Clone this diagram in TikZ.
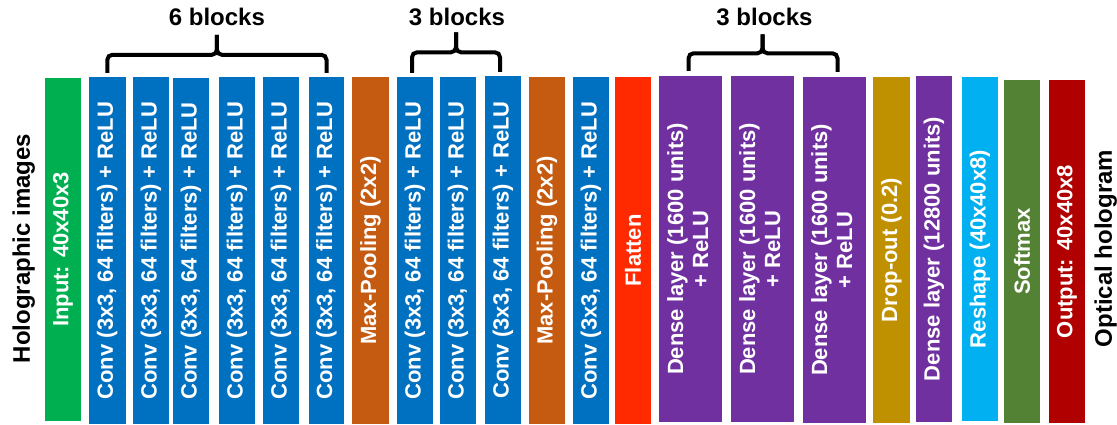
\documentclass[tikz,border=0pt]{standalone}
\usepackage{fontspec}
\setmainfont{Liberation Sans}
\usepackage{tikz}
\usetikzlibrary{calc}
\usepackage{xcolor}
\definecolor{inpgreen}{HTML}{00B050}
\definecolor{convblue}{HTML}{0070C0}
\definecolor{poolorange}{HTML}{C55A11}
\definecolor{flatred}{HTML}{FF2A00}
\definecolor{densepurple}{HTML}{7030A0}
\definecolor{dropgold}{HTML}{BF9000}
\definecolor{reshblue}{HTML}{00B0F0}
\definecolor{softgreen}{HTML}{548235}
\definecolor{outred}{HTML}{B00000}
\tikzset{
	bar/.style={rectangle,inner sep=0pt,minimum width=36pt,minimum height=347pt,text=white,font=\fontsize{22}{25}\selectfont\bfseries},
	brk/.style={line width=4pt,rounded corners=5pt},
	lbl/.style={inner sep=0pt,font=\fontsize{24}{28}\selectfont\bfseries}
}
\newcommand{\twoline}[2]{\rotatebox{90}{\begin{tabular}{@{}c@{}}#1\\#2\end{tabular}}}

\begin{document}
\begin{tikzpicture}[x=1pt,y=1pt]
		\useasboundingbox (0,0) rectangle (1117,424);
		\node [lbl,rotate=90] (holo) at (23.75,175.5) {Holographic images};
		\node [bar,fill=inpgreen,minimum height=343pt] (inp) at (63,174.5) {\rotatebox{90}{Input: 40x40x3}};
		\node [bar,fill=convblue,minimum width=36.7pt] (c1) at (107.3,173.5) {\rotatebox{90}{Conv (3x3, 64 filters) + ReLU}};
		\node [bar,fill=convblue] (c2) at (151,173.5) {\rotatebox{90}{Conv (3x3, 64 filters) + ReLU}};
		\node [bar,fill=convblue,minimum height=346pt] (c3) at (191,173) {\rotatebox{90}{Conv (3x3, 64 filters) + ReLU}};
		\node [bar,fill=convblue] (c4) at (237,173.5) {\rotatebox{90}{Conv (3x3, 64 filters) + ReLU}};
		\node [bar,fill=convblue] (c5) at (281,173.5) {\rotatebox{90}{Conv (3x3, 64 filters) + ReLU}};
		\node [bar,fill=convblue,minimum width=35pt] (c6) at (326.5,173.5) {\rotatebox{90}{Conv (3x3, 64 filters) + ReLU}};
		\node [bar,fill=poolorange,minimum width=37pt] (mp1) at (370.5,173.5) {\rotatebox{90}{Max-Pooling (2x2)}};
		\node [bar,fill=convblue] (c7) at (415,173.5) {\rotatebox{90}{Conv (3x3, 64 filters) + ReLU}};
		\node [bar,fill=convblue] (c8) at (458,173.5) {\rotatebox{90}{Conv (3x3, 64 filters) + ReLU}};
		\node [bar,fill=convblue,minimum height=348pt] (c9) at (503,174) {\rotatebox{90}{Conv (3x3, 64 filters) + ReLU}};
		\node [bar,fill=poolorange] (mp2) at (547,173.5) {\rotatebox{90}{Max-Pooling (2x2)}};
		\node [bar,fill=convblue] (c10) at (591,173.5) {\rotatebox{90}{Conv (3x3, 64 filters) + ReLU}};
		\node [bar,fill=flatred] (flt) at (633,173.5) {\rotatebox{90}{Flatten}};
		\node [bar,fill=densepurple,minimum width=63pt,minimum height=346pt] (d1) at (690.5,175) {\twoline{Dense layer (1600 units)}{+ ReLU}};
		\node [bar,fill=densepurple,minimum width=63pt,minimum height=346pt] (d2) at (762.5,175) {\twoline{Dense layer (1600 units)}{+ ReLU}};
		\node [bar,fill=densepurple,minimum width=63pt,minimum height=346pt] (d3) at (834.5,174) {\twoline{Dense layer (1600 units)}{+ ReLU}};
		\node [bar,fill=dropgold,minimum width=37pt,minimum height=346pt] (drp) at (891.5,174) {\rotatebox{90}{Drop-out (0.2)}};
		\node [bar,fill=densepurple,minimum height=346pt] (d4) at (934,175) {\rotatebox{90}{Dense layer (12800 units)}};
		\node [bar,fill=reshblue,minimum height=344pt] (rsh) at (980,175) {\rotatebox{90}{Reshape (40x40x8)}};
		\node [bar,fill=softgreen,minimum height=343pt] (smx) at (1022,172.5) {\rotatebox{90}{Softmax}};
		\node [bar,fill=outred,minimum height=343pt] (out) at (1067,172.5) {\rotatebox{90}{Output: 40x40x8}};
		\node [lbl,rotate=90] (opt) at (1105.75,175.5) {Optical hologram};
		% brackets over the repeated blocks
		\draw [brk] ($(c1.north)+(0,4)$) |- ($(c1.north)!.5!(c6.north)+(0,22)$) -- ++(0,20);
		\draw [brk] ($(c6.north)+(0,4)$) |- ($(c1.north)!.5!(c6.north)+(0,22)$) -- ++(0,20);
		\node [lbl,anchor=base] (b6) at ($(c1.north)!.5!(c6.north)+(0,51)$) {6 blocks};
		\draw [brk] ($(c7.north)+(-3,4)$) |- ($(c7.north)!.5!(c9.north)+(-3,24)$) -- ++(0,20);
		\draw [brk] ($(c9.north)+(-3,4)$) |- ($(c7.north)!.5!(c9.north)+(-3,24)$) -- ++(0,20);
		\node [lbl,anchor=base] (b3a) at ($(c7.north)!.5!(c9.north)+(-2,51)$) {3 blocks};
		\draw [brk] ($(d1.north)+(-2,5)$) |- ($(d1.north)!.5!(d3.north)+(0,23)$) -- ++(0,19);
		\draw [brk] ($(d3.north)+(3,5)$) |- ($(d1.north)!.5!(d3.north)+(0,23)$) -- ++(0,19);
		\node [lbl,anchor=base] (b3b) at ($(d1.north)!.5!(d3.north)+(2,51)$) {3 blocks};
	\end{tikzpicture}
\end{document}
